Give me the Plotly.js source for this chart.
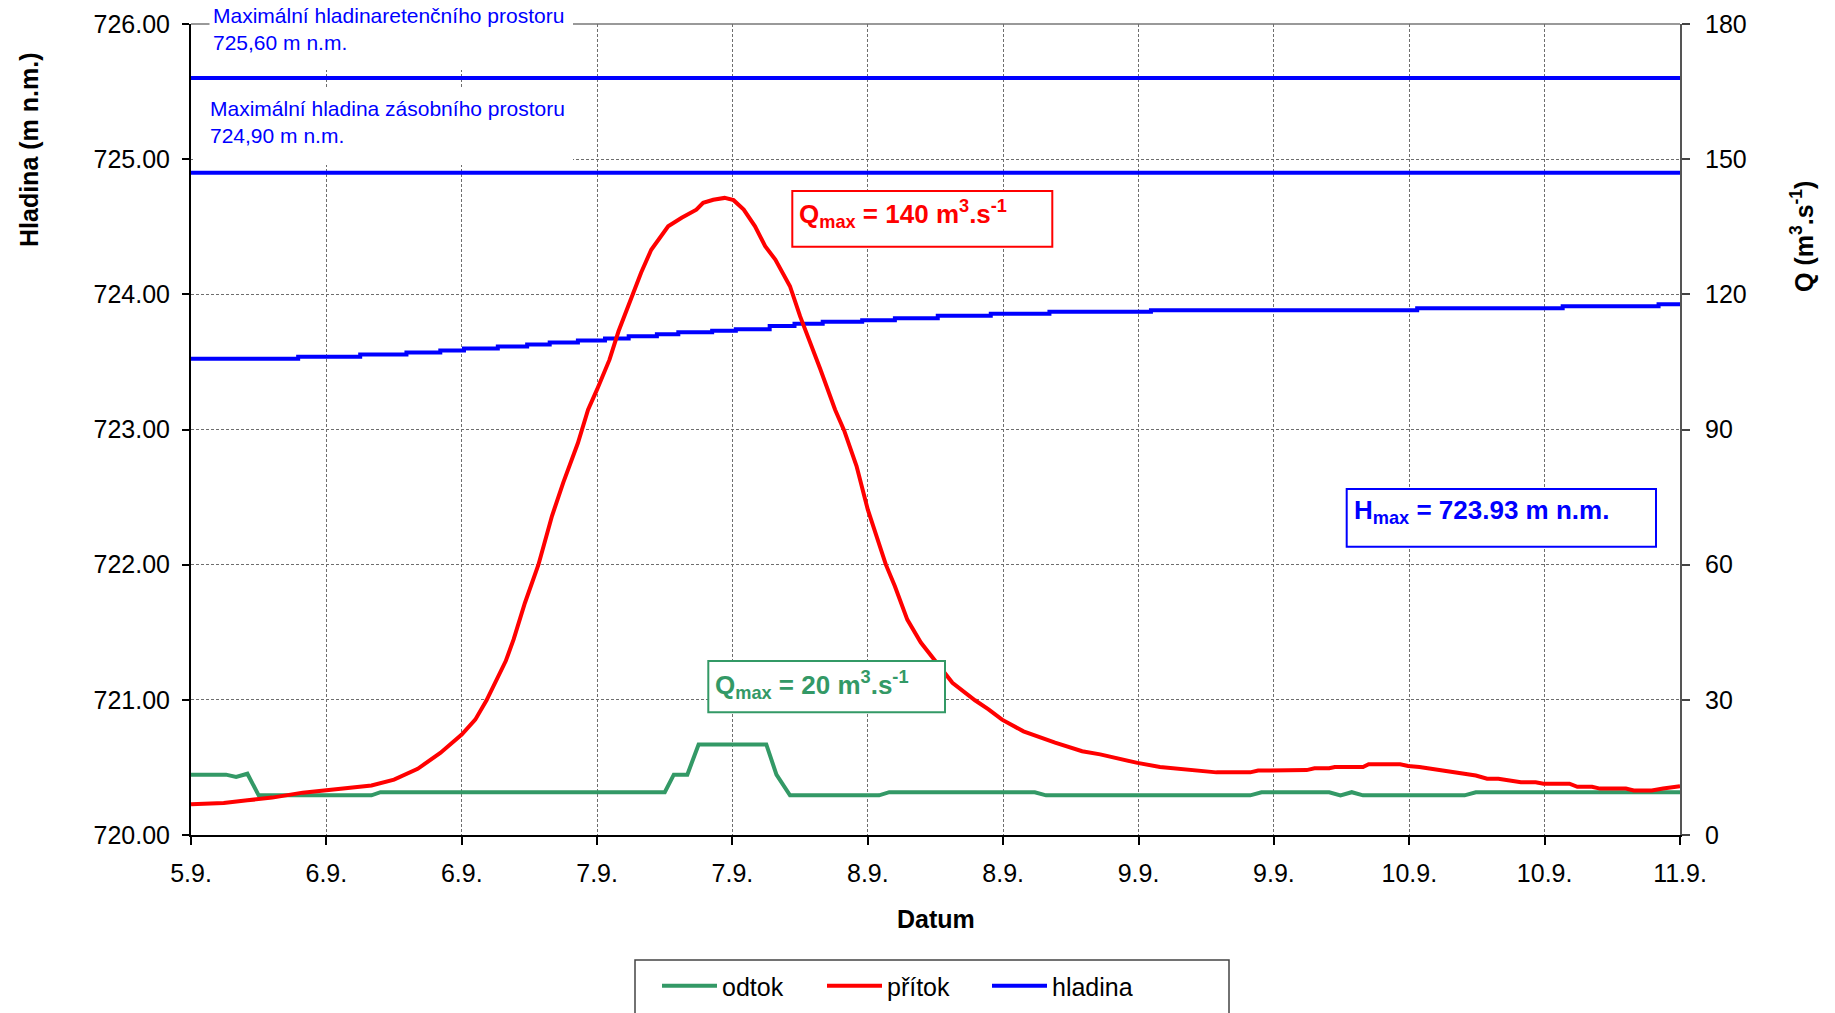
<!DOCTYPE html>
<html><head><meta charset="utf-8">
<script src="https://cdn.plot.ly/plotly-3.0.1.min.js"></script>
<style>html,body{margin:0;padding:0;background:#fff}#chart{width:1835px;height:1013px}</style>
</head><body><div id="chart"></div>
<script>
// time axis: hours since 5.9. 12:00, labels every 12 h
const tickHours = [0,12,24,36,48,60,72,84,96,108,120,132];
const tickLabels = ['5.9.','6.9.','6.9.','7.9.','7.9.','8.9.','8.9.','9.9.','9.9.','10.9.','10.9.','11.9.'];

// přítok (inflow) Q [m3/s]
const inflowHours = [0,2.9,5.0,7.2,9.9,12.6,16.0,18.0,20.1,22.1,24.0,25.2,26.2,27.9,28.6,29.6,30.8,32.0,33.0,34.3,35.2,36.0,37.1,37.9,39.1,39.9,40.8,42.3,43.5,44.8,45.4,46.3,47.3,48.1,49.0,50.0,50.9,51.8,53.1,54.0,55.8,57.1,57.9,59.0,60.0,61.6,62.4,63.5,64.7,65.9,67.5,69.5,70.7,71.9,73.8,76.6,79.0,80.6,82.2,83.9,85.9,88.9,90.9,93.9,94.6,98.9,99.6,100.9,101.4,103.9,104.4,107.2,107.9,108.9,112.2,113.9,114.9,115.9,117.9,119.2,119.9,122.2,122.9,124.2,124.9,127.2,127.9,129.5,130.5,132];
const inflowQ = [6.8,7.1,7.7,8.3,9.4,10.1,11.0,12.3,14.7,18.2,22.3,25.6,29.9,38.6,43.4,51.5,60.0,70.8,78.2,87.0,94.4,98.9,105.5,111.8,119.6,124.8,129.9,135.1,137.0,138.8,140.3,141.0,141.4,140.9,138.8,135.1,130.7,127.7,121.8,115.1,103.3,94.4,89.8,81.9,72.2,60.0,55.2,47.8,42.7,39.0,33.8,29.9,27.9,25.6,23.0,20.5,18.6,17.9,16.9,16.0,15.1,14.4,13.9,13.9,14.3,14.4,14.8,14.8,15.1,15.1,15.7,15.7,15.3,15.1,13.8,13.2,12.5,12.5,11.7,11.7,11.4,11.4,10.7,10.7,10.3,10.3,9.9,9.9,10.3,10.8];

// odtok (outflow) Q [m3/s]
const outflowHours = [0,3.1,4.0,5.0,6.0,16.0,16.8,42.0,42.8,44.0,45.0,51.0,51.9,53.1,61.0,61.9,74.8,75.8,93.9,94.9,100.9,101.9,102.9,103.9,112.9,113.9,132];
const outflowQ = [13.4,13.4,12.9,13.6,8.8,8.8,9.5,9.5,13.4,13.4,20.1,20.1,13.4,8.8,8.8,9.5,9.5,8.8,8.8,9.5,9.5,8.8,9.5,8.8,8.8,9.5,9.5];

// hladina (water level) H [m n.m.]
const levelHours = [0,9.5,15.0,19.1,22.1,24.2,27.2,29.8,31.8,34.3,36.7,38.8,41.3,43.2,46.2,48.3,51.3,53.5,56.0,59.5,62.4,66.2,70.9,76.1,85.1,108.7,121.6,130.1,132];
const levelH = [723.523,723.538,723.555,723.570,723.585,723.600,723.614,723.628,723.643,723.658,723.673,723.690,723.704,723.720,723.730,723.742,723.765,723.782,723.797,723.809,723.823,723.841,723.856,723.871,723.883,723.897,723.912,723.927,723.927];

const retentionLevel = 725.60;
const storageLevel = 724.90;

const FONT = 'Liberation Sans, Arial, sans-serif';
const GREEN = '#339966', RED = '#FF0000', BLUE = '#0000FF';

// plot geometry helpers (paper coords from pixel positions)
const L = 191, T = 24, PW = 1489, PH = 811;
const px = x => (x - L) / PW;
const py = y => (T + PH - y) / PH;

const tStart = tickHours[0], tEnd = tickHours[tickHours.length - 1];

const traces = [
  {x: outflowHours, y: outflowQ, yaxis: 'y2', name: 'odtok', mode: 'lines',
   line: {color: GREEN, width: 4}},
  {x: inflowHours, y: inflowQ, yaxis: 'y2', name: 'přítok', mode: 'lines',
   line: {color: RED, width: 4}},
  {x: levelHours, y: levelH, yaxis: 'y', name: 'hladina', mode: 'lines',
   line: {color: BLUE, width: 4, shape: 'hv'}},
  {x: [tStart, tEnd], y: [retentionLevel, retentionLevel], yaxis: 'y', mode: 'lines',
   showlegend: false, line: {color: BLUE, width: 4}},
  {x: [tStart, tEnd], y: [storageLevel, storageLevel], yaxis: 'y', mode: 'lines',
   showlegend: false, line: {color: BLUE, width: 4}}
];

const gridStyle = {showgrid: true, gridcolor: '#6e6e6e', gridwidth: 1, griddash: '3px,2px'};

const layout = {
  width: 1835, height: 1013,
  margin: {l: L, r: 1835 - L - PW, t: T, b: 1013 - T - PH, autoexpand: false},
  paper_bgcolor: '#fff', plot_bgcolor: '#fff',
  font: {family: FONT, color: '#000', size: 25},
  showlegend: true,
  legend: {orientation: 'h', x: px(657), xanchor: 'left', y: py(986), yanchor: 'middle',
    font: {size: 25, family: FONT}, bgcolor: 'rgba(0,0,0,0)', borderwidth: 0,
    entrywidth: 95, entrywidthmode: 'pixels', itemwidth: 55},
  xaxis: Object.assign({
    range: [tStart, tEnd], tickmode: 'array', tickvals: tickHours, ticktext: tickLabels,
    ticks: 'outside', ticklen: 8, tickwidth: 2, tickcolor: '#000',
    showline: true, linecolor: '#000', linewidth: 2, zeroline: false,
    tickfont: {size: 25, family: FONT}, ticklabelstandoff: 7
  }, gridStyle),
  yaxis: Object.assign({
    range: [720, 726], dtick: 1, tick0: 720, tickformat: '.2f',
    ticks: 'outside', ticklen: 7, tickwidth: 2, tickcolor: '#000',
    showline: true, linecolor: '#000', linewidth: 2, zeroline: false,
    tickfont: {size: 25, family: FONT}, ticklabelstandoff: 7
  }, gridStyle),
  yaxis2: {
    overlaying: 'y', side: 'right', range: [0, 180], dtick: 30, tick0: 0,
    showgrid: false, zeroline: false,
    ticks: 'outside', ticklen: 8, tickwidth: 2, tickcolor: '#444',
    showline: true, linecolor: '#555', linewidth: 2,
    tickfont: {size: 25, family: FONT}, ticklabelstandoff: 10
  },
  shapes: [
    // plot-area top border
    {type: 'line', xref: 'paper', yref: 'paper', x0: 0, x1: 1, y0: 1, y1: 1,
     line: {color: '#999', width: 2}, layer: 'below'},
    // white backgrounds behind level captions
    {type: 'rect', xref: 'paper', yref: 'paper', x0: px(209.5), x1: px(573), y0: py(0), y1: py(70),
     fillcolor: '#fff', line: {width: 0}, layer: 'above'},
    {type: 'rect', xref: 'paper', yref: 'paper', x0: px(193), x1: px(573), y0: py(88), y1: py(165),
     fillcolor: '#fff', line: {width: 0}, layer: 'above'},
    // Qmax inflow box
    {type: 'rect', xref: 'paper', yref: 'paper', x0: px(792.3), x1: px(1052.3), y0: py(191), y1: py(246.7),
     fillcolor: '#fff', line: {color: RED, width: 2}, layer: 'above'},
    // Qmax outflow box
    {type: 'rect', xref: 'paper', yref: 'paper', x0: px(708.3), x1: px(945), y0: py(661), y1: py(712.3),
     fillcolor: '#fff', line: {color: GREEN, width: 2}, layer: 'above'},
    // Hmax box
    {type: 'rect', xref: 'paper', yref: 'paper', x0: px(1346.7), x1: px(1656), y0: py(489), y1: py(546.7),
     fillcolor: '#fff', line: {color: BLUE, width: 2}, layer: 'above'},
    // legend frame
    {type: 'rect', xref: 'paper', yref: 'paper', x0: px(635), x1: px(1229), y0: py(960), y1: py(1030),
     fillcolor: 'rgba(0,0,0,0)', line: {color: '#444', width: 1.5}, layer: 'above'}
  ],
  annotations: [
    {xref: 'paper', yref: 'paper', x: px(211), y: py(29.5), xanchor: 'left', yanchor: 'middle', align: 'left',
     text: 'Maximální hladinaretenčního prostoru<br>725,60 m n.m.', showarrow: false,
     font: {family: FONT, size: 21, color: BLUE}},
    {xref: 'paper', yref: 'paper', x: px(207.5), y: py(121.7), xanchor: 'left', yanchor: 'middle', align: 'left',
     text: 'Maximální hladina zásobního prostoru<br>724,90 m n.m.', showarrow: false,
     font: {family: FONT, size: 21, color: BLUE}},
    {xref: 'paper', yref: 'paper', x: px(797), y: py(214), xanchor: 'left', yanchor: 'middle', align: 'left',
     text: '<b>Q<sub>max</sub> = 140 m<sup>3</sup>.s<sup>-1</sup></b>', showarrow: false,
     font: {family: FONT, size: 26, color: RED}},
    {xref: 'paper', yref: 'paper', x: px(713), y: py(685), xanchor: 'left', yanchor: 'middle', align: 'left',
     text: '<b>Q<sub>max</sub> = 20 m<sup>3</sup>.s<sup>-1</sup></b>', showarrow: false,
     font: {family: FONT, size: 26, color: GREEN}},
    {xref: 'paper', yref: 'paper', x: px(1352), y: py(511), xanchor: 'left', yanchor: 'middle', align: 'left',
     text: '<b>H<sub>max</sub> = 723.93 m n.m.</b>', showarrow: false,
     font: {family: FONT, size: 26, color: BLUE}},
    {xref: 'paper', yref: 'paper', x: px(29), y: py(150), xanchor: 'center', yanchor: 'middle',
     text: '<b>Hladina (m n.m.)</b>', textangle: -90, showarrow: false,
     font: {family: FONT, size: 25, color: '#000'}},
    {xref: 'paper', yref: 'paper', x: px(1802), y: py(237), xanchor: 'center', yanchor: 'middle',
     text: '<b>Q (m<sup>3</sup>.s<sup>-1</sup>)</b>', textangle: -90, showarrow: false,
     font: {family: FONT, size: 25, color: '#000'}},
    {xref: 'paper', yref: 'paper', x: px(935.5), y: py(919), xanchor: 'center', yanchor: 'middle',
     text: '<b>Datum</b>', showarrow: false,
     font: {family: FONT, size: 25, color: '#000'}}
  ]
};

Plotly.newPlot('chart', traces, layout, {displayModeBar: false, staticPlot: true});
</script>
</body></html>
